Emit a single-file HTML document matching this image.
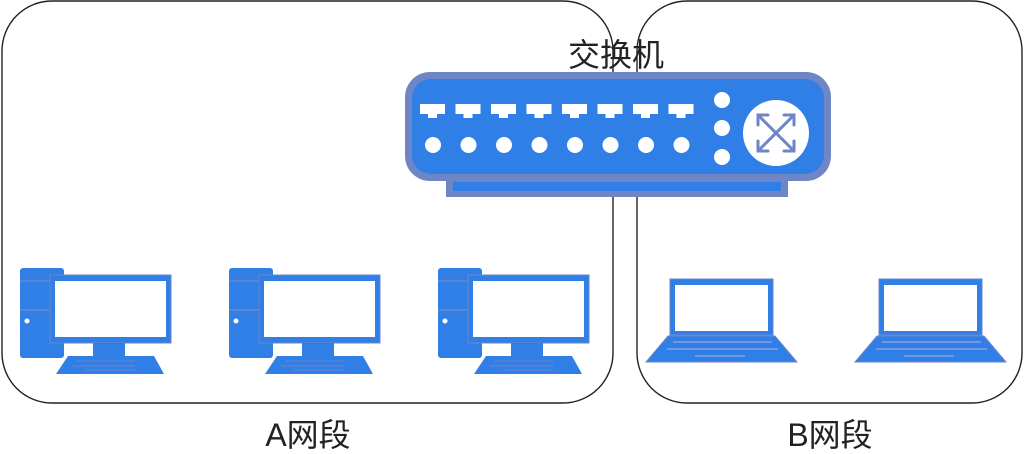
<!DOCTYPE html>
<html><head><meta charset="utf-8"><style>
html,body{margin:0;padding:0;background:#fff;}
svg{display:block;}
text{font-family:"Liberation Sans","Noto Sans CJK SC",sans-serif;fill:#222;}
</style></head><body>
<svg width="1024" height="454" viewBox="0 0 1024 454" xmlns="http://www.w3.org/2000/svg">
<defs>
<g id="pc">
  <rect x="20" y="268" width="44" height="90" rx="3" fill="#2f7fe6"/>
  <line x1="20" y1="281" x2="64" y2="281" stroke="#6f86c6" stroke-width="1.5"/>
  <line x1="20" y1="310" x2="64" y2="310" stroke="#6f86c6" stroke-width="1.5"/>
  <circle cx="27" cy="321" r="2.5" fill="#fff"/>
  <rect x="50" y="275" width="121" height="68" fill="#2f7fe6" stroke="#6f86c6" stroke-width="1"/>
  <rect x="55" y="281" width="111" height="56" fill="#fff"/>
  <rect x="93" y="343" width="32" height="13" fill="#2f7fe6"/>
  <polygon points="68,356 154,356 164,374 56,374" fill="#2f7fe6"/>
  <line x1="76" y1="361" x2="135" y2="361" stroke="#6f86c6" stroke-width="1"/>
  <line x1="72" y1="366" x2="135" y2="366" stroke="#6f86c6" stroke-width="1"/>
  <line x1="85" y1="370" x2="135" y2="370" stroke="#6f86c6" stroke-width="1"/>
</g>
<g id="lap">
  <rect x="670" y="279" width="103" height="56" fill="#2f7fe6" stroke="#6f86c6" stroke-width="1"/>
  <rect x="675" y="285" width="93" height="46" fill="#fff"/>
  <polygon points="668,336 775,336 797,362 646,362" fill="#2f7fe6" stroke="#6f86c6" stroke-width="1"/>
  <line x1="673" y1="342" x2="772" y2="342" stroke="#9aa8d8" stroke-width="1.2"/>
  <line x1="667" y1="349" x2="778" y2="349" stroke="#9aa8d8" stroke-width="1.2"/>
  <line x1="695" y1="356" x2="745" y2="356" stroke="#9aa8d8" stroke-width="1.2"/>
</g>
<g id="port">
  <rect x="0" y="0" width="25" height="10" fill="#fff"/>
  <rect x="8" y="9" width="9" height="5" fill="#fff"/>
</g>
</defs>

<rect x="2" y="1" width="611" height="402" rx="50" fill="none" stroke="#222" stroke-width="1.4"/>
<rect x="637" y="1" width="385" height="402" rx="50" fill="none" stroke="#222" stroke-width="1.4"/>

<text x="616" y="66" font-size="32" text-anchor="middle">交换机</text>

<!-- switch -->
<rect x="446" y="176" width="342" height="21" fill="#6f86c6"/>
<rect x="453" y="182" width="328" height="9" fill="#2f7fe6"/>
<rect x="405" y="72" width="426" height="109" rx="25" fill="#6f86c6"/>
<rect x="412" y="79" width="412" height="95" rx="19" fill="#2f7fe6"/>
<g>
  <use href="#port" x="420" y="104"/>
  <use href="#port" x="455.5" y="104"/>
  <use href="#port" x="491" y="104"/>
  <use href="#port" x="526.5" y="104"/>
  <use href="#port" x="562" y="104"/>
  <use href="#port" x="597.5" y="104"/>
  <use href="#port" x="633" y="104"/>
  <use href="#port" x="668.5" y="104"/>
</g>
<g fill="#fff">
  <circle cx="433" cy="145" r="8"/><circle cx="468.5" cy="145" r="8"/>
  <circle cx="504" cy="145" r="8"/><circle cx="539.5" cy="145" r="8"/>
  <circle cx="575" cy="145" r="8"/><circle cx="610.5" cy="145" r="8"/>
  <circle cx="646" cy="145" r="8"/><circle cx="681.5" cy="145" r="8"/>
  <circle cx="722" cy="100" r="8"/><circle cx="722" cy="128" r="8"/><circle cx="722" cy="157" r="8"/>
  <circle cx="776" cy="133" r="33"/>
</g>
<g stroke="#6f86c6" stroke-width="3" fill="none" stroke-linecap="round">
  <line x1="760" y1="117" x2="792" y2="149"/>
  <line x1="792" y1="117" x2="760" y2="149"/>
  <polyline points="758,125 758,115 768,115"/>
  <polyline points="794,125 794,115 784,115"/>
  <polyline points="758,141 758,151 768,151"/>
  <polyline points="794,141 794,151 784,151"/>
</g>

<use href="#pc" x="0"/>
<use href="#pc" x="209"/>
<use href="#pc" x="418"/>
<use href="#lap" x="0"/>
<use href="#lap" x="209"/>

<text x="308" y="446" font-size="32" text-anchor="middle">A网段</text>
<text x="830" y="446" font-size="32" text-anchor="middle">B网段</text>
</svg>
</body></html>
